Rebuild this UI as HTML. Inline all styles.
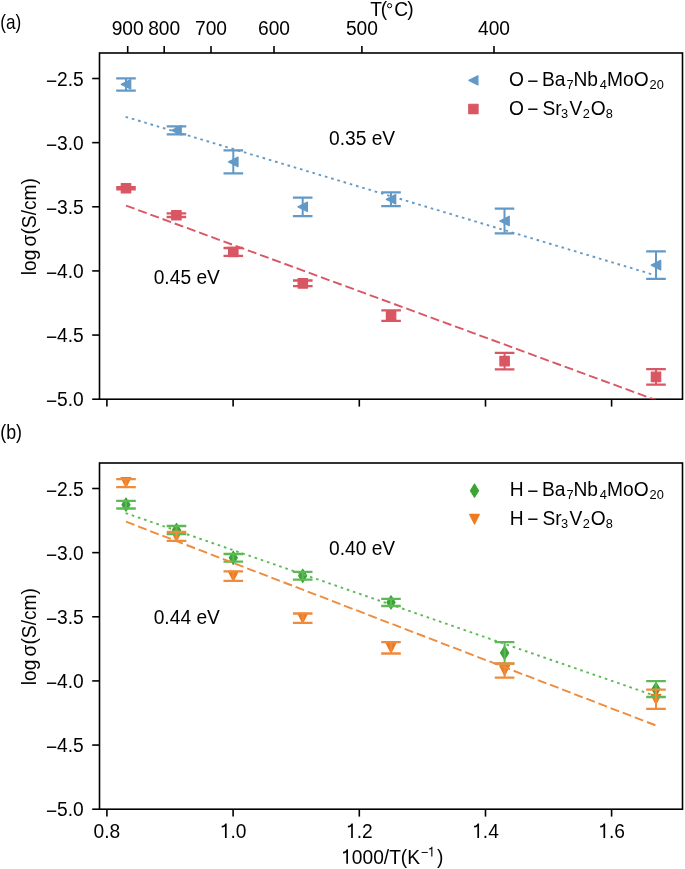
<!DOCTYPE html><html><head><meta charset="utf-8"><style>html,body{margin:0;padding:0;background:#fff;}svg{display:block;will-change:transform;}text{font-family:"Liberation Sans",sans-serif;fill:#000;}</style></head><body>
<svg width="685" height="869" viewBox="0 0 685 869">
<rect x="0" y="0" width="685" height="869" fill="#fff"/>
<defs><clipPath id="c1"><rect x="99.5" y="53.0" width="583.0" height="346.2"/></clipPath><clipPath id="c2"><rect x="99.5" y="463.0" width="583.0" height="346.20000000000005"/></clipPath></defs>
<rect x="99.5" y="53.0" width="583.0" height="346.2" fill="none" stroke="#000" stroke-width="1.6"/>
<line x1="92.2" y1="78.5" x2="99.5" y2="78.5" stroke="#000" stroke-width="1.6"/>
<text transform="translate(83.8 85.75) scale(1 1.07)" font-size="19.2" text-anchor="end"><tspan dy="1.8">−</tspan><tspan dy="-1.8">2.5</tspan></text>
<line x1="92.2" y1="142.64" x2="99.5" y2="142.64" stroke="#000" stroke-width="1.6"/>
<text transform="translate(83.8 149.89) scale(1 1.07)" font-size="19.2" text-anchor="end"><tspan dy="1.8">−</tspan><tspan dy="-1.8">3.0</tspan></text>
<line x1="92.2" y1="206.78" x2="99.5" y2="206.78" stroke="#000" stroke-width="1.6"/>
<text transform="translate(83.8 214.03) scale(1 1.07)" font-size="19.2" text-anchor="end"><tspan dy="1.8">−</tspan><tspan dy="-1.8">3.5</tspan></text>
<line x1="92.2" y1="270.92" x2="99.5" y2="270.92" stroke="#000" stroke-width="1.6"/>
<text transform="translate(83.8 278.17) scale(1 1.07)" font-size="19.2" text-anchor="end"><tspan dy="1.8">−</tspan><tspan dy="-1.8">4.0</tspan></text>
<line x1="92.2" y1="335.06" x2="99.5" y2="335.06" stroke="#000" stroke-width="1.6"/>
<text transform="translate(83.8 342.31) scale(1 1.07)" font-size="19.2" text-anchor="end"><tspan dy="1.8">−</tspan><tspan dy="-1.8">4.5</tspan></text>
<line x1="92.2" y1="399.2" x2="99.5" y2="399.2" stroke="#000" stroke-width="1.6"/>
<text transform="translate(83.8 406.45) scale(1 1.07)" font-size="19.2" text-anchor="end"><tspan dy="1.8">−</tspan><tspan dy="-1.8">5.0</tspan></text>
<line x1="106.9" y1="399.2" x2="106.9" y2="406.6" stroke="#000" stroke-width="1.6"/>
<line x1="233.1" y1="399.2" x2="233.1" y2="406.6" stroke="#000" stroke-width="1.6"/>
<line x1="359.3" y1="399.2" x2="359.3" y2="406.6" stroke="#000" stroke-width="1.6"/>
<line x1="485.5" y1="399.2" x2="485.5" y2="406.6" stroke="#000" stroke-width="1.6"/>
<line x1="611.6" y1="399.2" x2="611.6" y2="406.6" stroke="#000" stroke-width="1.6"/>
<text transform="translate(35.8 275.15) rotate(-90) scale(1 1.07)" font-size="19.2">log</text>
<text transform="translate(35.8 246.4) rotate(-90) scale(1 1.07)" font-size="19.2">σ(S/cm)</text>
<rect x="99.5" y="463.0" width="583.0" height="346.20000000000005" fill="none" stroke="#000" stroke-width="1.6"/>
<line x1="92.2" y1="488.5" x2="99.5" y2="488.5" stroke="#000" stroke-width="1.6"/>
<text transform="translate(83.8 495.75) scale(1 1.07)" font-size="19.2" text-anchor="end"><tspan dy="1.8">−</tspan><tspan dy="-1.8">2.5</tspan></text>
<line x1="92.2" y1="552.64" x2="99.5" y2="552.64" stroke="#000" stroke-width="1.6"/>
<text transform="translate(83.8 559.89) scale(1 1.07)" font-size="19.2" text-anchor="end"><tspan dy="1.8">−</tspan><tspan dy="-1.8">3.0</tspan></text>
<line x1="92.2" y1="616.78" x2="99.5" y2="616.78" stroke="#000" stroke-width="1.6"/>
<text transform="translate(83.8 624.03) scale(1 1.07)" font-size="19.2" text-anchor="end"><tspan dy="1.8">−</tspan><tspan dy="-1.8">3.5</tspan></text>
<line x1="92.2" y1="680.92" x2="99.5" y2="680.92" stroke="#000" stroke-width="1.6"/>
<text transform="translate(83.8 688.17) scale(1 1.07)" font-size="19.2" text-anchor="end"><tspan dy="1.8">−</tspan><tspan dy="-1.8">4.0</tspan></text>
<line x1="92.2" y1="745.06" x2="99.5" y2="745.06" stroke="#000" stroke-width="1.6"/>
<text transform="translate(83.8 752.31) scale(1 1.07)" font-size="19.2" text-anchor="end"><tspan dy="1.8">−</tspan><tspan dy="-1.8">4.5</tspan></text>
<line x1="92.2" y1="809.2" x2="99.5" y2="809.2" stroke="#000" stroke-width="1.6"/>
<text transform="translate(83.8 816.45) scale(1 1.07)" font-size="19.2" text-anchor="end"><tspan dy="1.8">−</tspan><tspan dy="-1.8">5.0</tspan></text>
<line x1="106.9" y1="809.2" x2="106.9" y2="816.6" stroke="#000" stroke-width="1.6"/>
<text transform="translate(93.55 837.9) scale(1 1.07)" font-size="19.2">0.8</text>
<line x1="233.1" y1="809.2" x2="233.1" y2="816.6" stroke="#000" stroke-width="1.6"/>
<path d="M224.96 837.9L226.65 837.9L226.65 823.46L225.32 823.46L224.86 824.3L224.13 825.08L223.06 825.66L221.69 825.86L221.69 827.59L223.27 827.34L224.23 826.89L224.96 826.35Z" fill="#000"/><text transform="translate(230.43 837.9) scale(1 1.07)" font-size="19.2">.0</text>
<line x1="359.3" y1="809.2" x2="359.3" y2="816.6" stroke="#000" stroke-width="1.6"/>
<path d="M351.16 837.9L352.85 837.9L352.85 823.46L351.52 823.46L351.06 824.3L350.33 825.08L349.26 825.66L347.89 825.86L347.89 827.59L349.47 827.34L350.43 826.89L351.16 826.35Z" fill="#000"/><text transform="translate(356.63 837.9) scale(1 1.07)" font-size="19.2">.2</text>
<line x1="485.5" y1="809.2" x2="485.5" y2="816.6" stroke="#000" stroke-width="1.6"/>
<path d="M477.36 837.9L479.05 837.9L479.05 823.46L477.72 823.46L477.26 824.3L476.53 825.08L475.46 825.66L474.09 825.86L474.09 827.59L475.67 827.34L476.63 826.89L477.36 826.35Z" fill="#000"/><text transform="translate(482.83 837.9) scale(1 1.07)" font-size="19.2">.4</text>
<line x1="611.6" y1="809.2" x2="611.6" y2="816.6" stroke="#000" stroke-width="1.6"/>
<path d="M603.46 837.9L605.15 837.9L605.15 823.46L603.82 823.46L603.36 824.3L602.63 825.08L601.56 825.66L600.19 825.86L600.19 827.59L601.77 827.34L602.73 826.89L603.46 826.35Z" fill="#000"/><text transform="translate(608.93 837.9) scale(1 1.07)" font-size="19.2">.6</text>
<text transform="translate(35.8 685.15) rotate(-90) scale(1 1.07)" font-size="19.2">log</text>
<text transform="translate(35.8 656.4) rotate(-90) scale(1 1.07)" font-size="19.2">σ(S/cm)</text>
<line x1="127.7" y1="46" x2="127.7" y2="53" stroke="#000" stroke-width="1.6"/>
<text transform="translate(127.7 34.9) scale(1 1.07)" font-size="19.2" text-anchor="middle">900</text>
<line x1="164.2" y1="46" x2="164.2" y2="53" stroke="#000" stroke-width="1.6"/>
<text transform="translate(164.2 34.9) scale(1 1.07)" font-size="19.2" text-anchor="middle">800</text>
<line x1="211" y1="46" x2="211" y2="53" stroke="#000" stroke-width="1.6"/>
<text transform="translate(211 34.9) scale(1 1.07)" font-size="19.2" text-anchor="middle">700</text>
<line x1="274" y1="46" x2="274" y2="53" stroke="#000" stroke-width="1.6"/>
<text transform="translate(274 34.9) scale(1 1.07)" font-size="19.2" text-anchor="middle">600</text>
<line x1="361.9" y1="46" x2="361.9" y2="53" stroke="#000" stroke-width="1.6"/>
<text transform="translate(361.9 34.9) scale(1 1.07)" font-size="19.2" text-anchor="middle">500</text>
<line x1="494" y1="46" x2="494" y2="53" stroke="#000" stroke-width="1.6"/>
<text transform="translate(494 34.9) scale(1 1.07)" font-size="19.2" text-anchor="middle">400</text>
<text transform="translate(370.3 16.0) scale(1 1.07)" font-size="19.2">T</text>
<text transform="translate(380.8 16.0) scale(1 1.07)" font-size="19.2">(</text>
<circle cx="389.6" cy="5.7" r="2.1" fill="none" stroke="#000" stroke-width="1.0"/>
<text transform="translate(394.3 16.0) scale(1 1.07)" font-size="19.2">C</text>
<text transform="translate(407.2 16.0) scale(1 1.07)" font-size="19.2">)</text>
<path d="M346.3 863.8L347.99 863.8L347.99 849.36L346.67 849.36L346.21 850.2L345.48 850.98L344.4 851.56L343.04 851.76L343.04 853.49L344.61 853.24L345.57 852.79L346.3 852.25Z" fill="#000"/>
<text transform="translate(351.78 863.8) scale(1 1.07)" font-size="19.2">000/T(K</text>
<text transform="translate(420.7 856.5) scale(1 1.07)" font-size="12.8">−</text>
<path d="M431.27 856.5L432.4 856.5L432.4 846.87L431.51 846.87L431.2 847.43L430.72 847.95L430 848.34L429.09 848.47L429.09 849.62L430.14 849.46L430.78 849.16L431.27 848.8Z" fill="#000"/>
<text transform="translate(436.9 863.8) scale(1 1.07)" font-size="19.2">)</text>
<text transform="translate(0.3 28.6) scale(0.86 1)" font-size="20">(a)</text>
<text transform="translate(0.3 438.8) scale(0.89 1)" font-size="20">(b)</text>
<text transform="translate(329 145.3) scale(1 1.07)" font-size="19.2">0.35 eV</text>
<text transform="translate(153.7 283.7) scale(1 1.07)" font-size="19.2">0.45 eV</text>
<text transform="translate(329 555.3) scale(1 1.07)" font-size="19.2">0.40 eV</text>
<text transform="translate(153.7 624.2) scale(1 1.07)" font-size="19.2">0.44 eV</text>
<g clip-path="url(#c1)">
<path d="M121.3 84.3L130.7 79.6L130.7 89Z" fill="#6399c6" stroke="#6399c6" stroke-width="1.3" stroke-linejoin="round"/>
<path d="M171.8 130.3L181.2 125.6L181.2 135Z" fill="#6399c6" stroke="#6399c6" stroke-width="1.3" stroke-linejoin="round"/>
<path d="M228.6 161.9L238 157.2L238 166.6Z" fill="#6399c6" stroke="#6399c6" stroke-width="1.3" stroke-linejoin="round"/>
<path d="M298 206.8L307.4 202.1L307.4 211.5Z" fill="#6399c6" stroke="#6399c6" stroke-width="1.3" stroke-linejoin="round"/>
<path d="M386.3 199.3L395.7 194.6L395.7 204Z" fill="#6399c6" stroke="#6399c6" stroke-width="1.3" stroke-linejoin="round"/>
<path d="M499.8 221L509.2 216.3L509.2 225.7Z" fill="#6399c6" stroke="#6399c6" stroke-width="1.3" stroke-linejoin="round"/>
<path d="M651.3 265.1L660.7 260.4L660.7 269.8Z" fill="#6399c6" stroke="#6399c6" stroke-width="1.3" stroke-linejoin="round"/>
<rect x="121.3" y="183.5" width="9.4" height="9.4" fill="#d95663" stroke="#d95663" stroke-width="1.2" stroke-linejoin="round"/>
<rect x="171.7" y="210.5" width="9.4" height="9.4" fill="#d95663" stroke="#d95663" stroke-width="1.2" stroke-linejoin="round"/>
<rect x="228.6" y="247.3" width="9.4" height="9.4" fill="#d95663" stroke="#d95663" stroke-width="1.2" stroke-linejoin="round"/>
<rect x="298.1" y="278.7" width="9.4" height="9.4" fill="#d95663" stroke="#d95663" stroke-width="1.2" stroke-linejoin="round"/>
<rect x="386.4" y="310.9" width="9.4" height="9.4" fill="#d95663" stroke="#d95663" stroke-width="1.2" stroke-linejoin="round"/>
<rect x="499.9" y="356.4" width="9.4" height="9.4" fill="#d95663" stroke="#d95663" stroke-width="1.2" stroke-linejoin="round"/>
<rect x="651.3" y="372.2" width="9.4" height="9.4" fill="#d95663" stroke="#d95663" stroke-width="1.2" stroke-linejoin="round"/>
<line x1="125.6" y1="116.79" x2="656" y2="275.49" stroke="#6399c6" stroke-width="1.9" stroke-dasharray="2.6 3.9"/>
<path d="M126 78.3V90.6" stroke="#6399c6" stroke-width="2.0" fill="none"/><path d="M116.2 78.3H135.8 M116.2 90.6H135.8" stroke="#6399c6" stroke-width="2.3" fill="none"/>
<path d="M176.5 126.3V134.4" stroke="#6399c6" stroke-width="2.0" fill="none"/><path d="M166.7 126.3H186.3 M166.7 134.4H186.3" stroke="#6399c6" stroke-width="2.3" fill="none"/>
<path d="M233.3 150.4V173.4" stroke="#6399c6" stroke-width="2.0" fill="none"/><path d="M223.5 150.4H243.1 M223.5 173.4H243.1" stroke="#6399c6" stroke-width="2.3" fill="none"/>
<path d="M302.7 197.55V216.1" stroke="#6399c6" stroke-width="2.0" fill="none"/><path d="M292.9 197.55H312.5 M292.9 216.1H312.5" stroke="#6399c6" stroke-width="2.3" fill="none"/>
<path d="M391 192.4V206.2" stroke="#6399c6" stroke-width="2.0" fill="none"/><path d="M381.2 192.4H400.8 M381.2 206.2H400.8" stroke="#6399c6" stroke-width="2.3" fill="none"/>
<path d="M504.5 208.6V233.4" stroke="#6399c6" stroke-width="2.0" fill="none"/><path d="M494.7 208.6H514.3 M494.7 233.4H514.3" stroke="#6399c6" stroke-width="2.3" fill="none"/>
<path d="M656 251.3V278.8" stroke="#6399c6" stroke-width="2.0" fill="none"/><path d="M646.2 251.3H665.8 M646.2 278.8H665.8" stroke="#6399c6" stroke-width="2.3" fill="none"/>
<line x1="126" y1="205.6" x2="656" y2="400.11" stroke="#d95663" stroke-width="1.9" stroke-dasharray="9.06 3.92"/>
<path d="M126 187.1V189.3" stroke="#d95663" stroke-width="2.0" fill="none"/><path d="M116.2 187.1H135.8 M116.2 189.3H135.8" stroke="#d95663" stroke-width="2.3" fill="none"/>
<path d="M176.4 213.4V217" stroke="#d95663" stroke-width="2.0" fill="none"/><path d="M166.6 213.4H186.2 M166.6 217H186.2" stroke="#d95663" stroke-width="2.3" fill="none"/>
<path d="M233.3 248V255.9" stroke="#d95663" stroke-width="2.0" fill="none"/><path d="M223.5 248H243.1 M223.5 255.9H243.1" stroke="#d95663" stroke-width="2.3" fill="none"/>
<path d="M302.8 280.5V286.2" stroke="#d95663" stroke-width="2.0" fill="none"/><path d="M293 280.5H312.6 M293 286.2H312.6" stroke="#d95663" stroke-width="2.3" fill="none"/>
<path d="M391.1 310.4V320.9" stroke="#d95663" stroke-width="2.0" fill="none"/><path d="M381.3 310.4H400.9 M381.3 320.9H400.9" stroke="#d95663" stroke-width="2.3" fill="none"/>
<path d="M504.6 352.9V369.4" stroke="#d95663" stroke-width="2.0" fill="none"/><path d="M494.8 352.9H514.4 M494.8 369.4H514.4" stroke="#d95663" stroke-width="2.3" fill="none"/>
<path d="M656 369.2V384.6" stroke="#d95663" stroke-width="2.0" fill="none"/><path d="M646.2 369.2H665.8 M646.2 384.6H665.8" stroke="#d95663" stroke-width="2.3" fill="none"/>
</g>
<g clip-path="url(#c2)">
<path d="M126 498.1L130.05 504.7L126 511.3L121.95 504.7Z" fill="#3aa535" stroke="#3aa535" stroke-width="1.2" stroke-linejoin="round"/>
<path d="M176.5 523.5L180.55 530.1L176.5 536.7L172.45 530.1Z" fill="#3aa535" stroke="#3aa535" stroke-width="1.2" stroke-linejoin="round"/>
<path d="M233.3 551.2L237.35 557.8L233.3 564.4L229.25 557.8Z" fill="#3aa535" stroke="#3aa535" stroke-width="1.2" stroke-linejoin="round"/>
<path d="M302.7 569.2L306.75 575.8L302.7 582.4L298.65 575.8Z" fill="#3aa535" stroke="#3aa535" stroke-width="1.2" stroke-linejoin="round"/>
<path d="M391 595.8L395.05 602.4L391 609L386.95 602.4Z" fill="#3aa535" stroke="#3aa535" stroke-width="1.2" stroke-linejoin="round"/>
<path d="M504.6 646.3L508.65 652.9L504.6 659.5L500.55 652.9Z" fill="#3aa535" stroke="#3aa535" stroke-width="1.2" stroke-linejoin="round"/>
<path d="M656 682.5L660.05 689.1L656 695.7L651.95 689.1Z" fill="#3aa535" stroke="#3aa535" stroke-width="1.2" stroke-linejoin="round"/>
<path d="M121.1 477.5L130.9 477.5L126 487.3Z" fill="#f07b1f" stroke="#f07b1f" stroke-width="1.2" stroke-linejoin="round"/>
<path d="M171.6 531.5L181.4 531.5L176.5 541.3Z" fill="#f07b1f" stroke="#f07b1f" stroke-width="1.2" stroke-linejoin="round"/>
<path d="M228.4 571.3L238.2 571.3L233.3 581.1Z" fill="#f07b1f" stroke="#f07b1f" stroke-width="1.2" stroke-linejoin="round"/>
<path d="M297.8 613.3L307.6 613.3L302.7 623.1Z" fill="#f07b1f" stroke="#f07b1f" stroke-width="1.2" stroke-linejoin="round"/>
<path d="M386.1 643L395.9 643L391 652.8Z" fill="#f07b1f" stroke="#f07b1f" stroke-width="1.2" stroke-linejoin="round"/>
<path d="M499.7 665.7L509.5 665.7L504.6 675.5Z" fill="#f07b1f" stroke="#f07b1f" stroke-width="1.2" stroke-linejoin="round"/>
<path d="M651.1 694.4L660.9 694.4L656 704.2Z" fill="#f07b1f" stroke="#f07b1f" stroke-width="1.2" stroke-linejoin="round"/>
<line x1="125.6" y1="513.06" x2="656" y2="696.12" stroke="#5cb955" stroke-width="1.9" stroke-dasharray="2.6 3.9"/>
<path d="M126 500.9V508.5" stroke="#5cb955" stroke-width="2.0" fill="none"/><path d="M116.2 500.9H135.8 M116.2 508.5H135.8" stroke="#5cb955" stroke-width="2.3" fill="none"/>
<path d="M176.5 526V534.2" stroke="#5cb955" stroke-width="2.0" fill="none"/><path d="M166.7 526H186.3 M166.7 534.2H186.3" stroke="#5cb955" stroke-width="2.3" fill="none"/>
<path d="M233.3 554V561.6" stroke="#5cb955" stroke-width="2.0" fill="none"/><path d="M223.5 554H243.1 M223.5 561.6H243.1" stroke="#5cb955" stroke-width="2.3" fill="none"/>
<path d="M302.7 571.9V579.7" stroke="#5cb955" stroke-width="2.0" fill="none"/><path d="M292.9 571.9H312.5 M292.9 579.7H312.5" stroke="#5cb955" stroke-width="2.3" fill="none"/>
<path d="M391 598.8V606" stroke="#5cb955" stroke-width="2.0" fill="none"/><path d="M381.2 598.8H400.8 M381.2 606H400.8" stroke="#5cb955" stroke-width="2.3" fill="none"/>
<path d="M504.6 642.1V663.7" stroke="#5cb955" stroke-width="2.0" fill="none"/><path d="M494.8 642.1H514.4 M494.8 663.7H514.4" stroke="#5cb955" stroke-width="2.3" fill="none"/>
<path d="M656 681.2V697" stroke="#5cb955" stroke-width="2.0" fill="none"/><path d="M646.2 681.2H665.8 M646.2 697H665.8" stroke="#5cb955" stroke-width="2.3" fill="none"/>
<line x1="126" y1="521.7" x2="655.8" y2="725.4" stroke="#ef8b3c" stroke-width="1.9" stroke-dasharray="9.06 3.92"/>
<path d="M126 479.05V487.1" stroke="#ef8b3c" stroke-width="2.0" fill="none"/><path d="M116.2 479.05H135.8 M116.2 487.1H135.8" stroke="#ef8b3c" stroke-width="2.3" fill="none"/>
<path d="M176.5 532V540.8" stroke="#ef8b3c" stroke-width="2.0" fill="none"/><path d="M166.7 532H186.3 M166.7 540.8H186.3" stroke="#ef8b3c" stroke-width="2.3" fill="none"/>
<path d="M233.3 571.4V580.9" stroke="#ef8b3c" stroke-width="2.0" fill="none"/><path d="M223.5 571.4H243.1 M223.5 580.9H243.1" stroke="#ef8b3c" stroke-width="2.3" fill="none"/>
<path d="M302.7 613.5V622.9" stroke="#ef8b3c" stroke-width="2.0" fill="none"/><path d="M292.9 613.5H312.5 M292.9 622.9H312.5" stroke="#ef8b3c" stroke-width="2.3" fill="none"/>
<path d="M391 642.2V653.5" stroke="#ef8b3c" stroke-width="2.0" fill="none"/><path d="M381.2 642.2H400.8 M381.2 653.5H400.8" stroke="#ef8b3c" stroke-width="2.3" fill="none"/>
<path d="M504.6 663.5V677.7" stroke="#ef8b3c" stroke-width="2.0" fill="none"/><path d="M494.8 663.5H514.4 M494.8 677.7H514.4" stroke="#ef8b3c" stroke-width="2.3" fill="none"/>
<path d="M656 689.6V708.9" stroke="#ef8b3c" stroke-width="2.0" fill="none"/><path d="M646.2 689.6H665.8 M646.2 708.9H665.8" stroke="#ef8b3c" stroke-width="2.3" fill="none"/>
</g>
<path d="M468.9 80.45L477.9 75.95L477.9 84.95Z" fill="#6399c6" stroke="#6399c6" stroke-width="1.3" stroke-linejoin="round"/>
<rect x="468.75" y="104.25" width="9.3" height="9.3" fill="#d95663" stroke="#d95663" stroke-width="1.2" stroke-linejoin="round"/>
<text transform="translate(508.9 86.2) scale(1 1.07)" font-size="19.2">O</text><text transform="translate(527.25 87.7) scale(1 1.07)" font-size="19.2">−</text><text transform="translate(541.9 86.2) scale(1 1.07)" font-size="19.2">Ba</text><text transform="translate(566.5 89.4) scale(1 1.07)" font-size="12.8">7</text><text transform="translate(573.5 86.2) scale(1 1.07)" font-size="19.2">Nb</text><text transform="translate(599.8 89.4) scale(1 1.07)" font-size="12.8">4</text><text transform="translate(607 86.2) scale(1 1.07)" font-size="19.2">MoO</text><text transform="translate(649.6 89.4) scale(1 1.07)" font-size="12.8">20</text>
<text transform="translate(508.9 114.8) scale(1 1.07)" font-size="19.2">O</text><text transform="translate(527.25 116.3) scale(1 1.07)" font-size="19.2">−</text><text transform="translate(542.4 114.8) scale(1 1.07)" font-size="19.2">Sr</text><text transform="translate(560.9 118) scale(1 1.07)" font-size="12.8">3</text><text transform="translate(569.5 114.8) scale(1 1.07)" font-size="19.2">V</text><text transform="translate(582.8 118) scale(1 1.07)" font-size="12.8">2</text><text transform="translate(590.7 114.8) scale(1 1.07)" font-size="19.2">O</text><text transform="translate(605.8 118) scale(1 1.07)" font-size="12.8">8</text>
<path d="M474.5 484.1L478.6 490.7L474.5 497.3L470.4 490.7Z" fill="#3aa535" stroke="#3aa535" stroke-width="1.2" stroke-linejoin="round"/>
<path d="M469.7 514.4L479.3 514.4L474.5 524Z" fill="#f07b1f" stroke="#f07b1f" stroke-width="1.2" stroke-linejoin="round"/>
<text transform="translate(509.8 496.2) scale(1 1.07)" font-size="19.2">H</text><text transform="translate(527.25 497.7) scale(1 1.07)" font-size="19.2">−</text><text transform="translate(541.9 496.2) scale(1 1.07)" font-size="19.2">Ba</text><text transform="translate(566.5 499.4) scale(1 1.07)" font-size="12.8">7</text><text transform="translate(573.5 496.2) scale(1 1.07)" font-size="19.2">Nb</text><text transform="translate(599.8 499.4) scale(1 1.07)" font-size="12.8">4</text><text transform="translate(607 496.2) scale(1 1.07)" font-size="19.2">MoO</text><text transform="translate(649.6 499.4) scale(1 1.07)" font-size="12.8">20</text>
<text transform="translate(509.8 524.8) scale(1 1.07)" font-size="19.2">H</text><text transform="translate(527.25 526.3) scale(1 1.07)" font-size="19.2">−</text><text transform="translate(542.4 524.8) scale(1 1.07)" font-size="19.2">Sr</text><text transform="translate(560.9 528) scale(1 1.07)" font-size="12.8">3</text><text transform="translate(569.5 524.8) scale(1 1.07)" font-size="19.2">V</text><text transform="translate(582.8 528) scale(1 1.07)" font-size="12.8">2</text><text transform="translate(590.7 524.8) scale(1 1.07)" font-size="19.2">O</text><text transform="translate(605.8 528) scale(1 1.07)" font-size="12.8">8</text>
</svg></body></html>
